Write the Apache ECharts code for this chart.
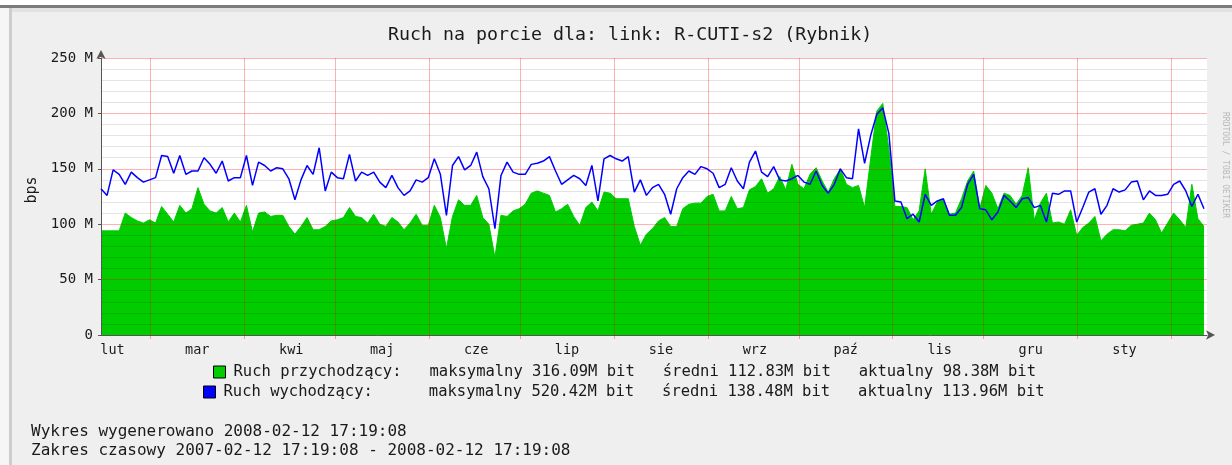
<!DOCTYPE html>
<html>
<head>
<meta charset="utf-8">
<title>Ruch na porcie</title>
<script src="https://cdn.jsdelivr.net/npm/echarts@6/dist/echarts.min.js"></script>
<style>
  html, body { margin: 0; padding: 0; background: #fff; }
  #chart { width: 1232px; height: 465px; }
</style>
</head>
<body>
<div id="chart"></div>
<script>
  // dane: jedna probka co 2 dni, wartosci w Mbit/s
  const STEP_DAYS = 2;
  const RANGE_DAYS = 365;

  const RUCH_IN = [
    94, 94, 94, 94, 110, 106, 103, 101, 104, 101,
    116, 109, 102, 117, 110, 114, 133, 118, 112, 110,
    115, 102, 110, 102, 117, 93, 110, 111, 107, 108,
    108, 98, 91, 98, 106, 95, 95, 98, 103, 104,
    106, 115, 107, 106, 101, 109, 100, 98, 106, 102,
    95, 101, 109, 99, 99, 117, 106, 78, 107, 122,
    117, 117, 126, 106, 100, 70, 108, 107, 112, 114,
    118, 128, 130, 128, 126, 111, 114, 118, 107, 99,
    115, 120, 112, 129, 128, 123, 123, 123, 98, 81,
    91, 96, 103, 106, 98, 98, 114, 118, 119, 119,
    125, 127, 112, 112, 125, 114, 115, 131, 134, 141,
    128, 132, 143, 131, 154, 136, 132, 145, 151, 139,
    129, 141, 150, 136, 133, 135, 115, 159, 202, 209,
    168, 116, 116, 115, 104, 112, 150, 109, 120, 122,
    109, 110, 123, 139, 148, 114, 135, 128, 114, 128,
    126, 118, 126, 151, 104, 119, 128, 101, 102, 100,
    113, 90, 97, 101, 107, 85, 91, 95, 95, 94,
    99, 100, 101, 110, 104, 92, 101, 110, 104, 97,
    136, 105, 98
  ];

  const RUCH_OUT = [
    132, 126, 149, 145, 136, 147, 142, 138, 140, 142,
    162, 161, 146, 162, 145, 148, 148, 160, 154, 146,
    157, 139, 142, 142, 162, 135, 156, 153, 148, 151,
    150, 141, 122, 140, 153, 145, 169, 130, 147, 142,
    141, 163, 139, 147, 144, 147, 138, 133, 144, 133,
    126, 130, 140, 138, 142, 159, 145, 108, 153, 161,
    149, 153, 165, 143, 132, 96, 144, 156, 147, 145,
    145, 154, 155, 157, 161, 148, 136, 140, 144, 141,
    135, 153, 121, 159, 162, 159, 157, 161, 129, 140,
    126, 133, 136, 127, 109, 132, 142, 148, 145, 152,
    150, 146, 133, 136, 151, 139, 132, 156, 166, 147,
    143, 152, 140, 139, 141, 144, 138, 136, 148, 135,
    128, 136, 150, 142, 141, 186, 155, 180, 199, 205,
    182, 121, 120, 105, 109, 102, 127, 117, 121, 123,
    108, 108, 115, 136, 145, 114, 113, 104, 111, 126,
    121, 115, 123, 124, 115, 117, 102, 128, 127, 130,
    130, 102, 115, 129, 132, 109, 117, 132, 129, 131,
    138, 139, 122, 130, 126, 126, 127, 136, 139, 130,
    116, 127, 114
  ];

  // miesiace: poczatek miesiaca w dniach od 2007-02-12 17:19:08
  const MONTHS = ['lut', 'mar', 'kwi', 'maj', 'cze', 'lip', 'sie', 'wrz', 'paź', 'lis', 'gru', 'sty'];
  const MONTH_START = [-11.72, 16.28, 47.28, 77.28, 108.28, 138.28, 169.28, 200.28, 230.28, 261.28, 291.28, 322.28, 353.28];

  const Y_MAX = 250;
  const Y_STEP = 50;

  const TITLE = 'Ruch na porcie dla: link: R-CUTI-s2 (Rybnik)';
  const NAME_IN = 'Ruch przychodzący';
  const NAME_OUT = 'Ruch wychodzący';
  const STATS_IN = ':   maksymalny 316.09M bit   średni 112.83M bit   aktualny 98.38M bit';
  const STATS_OUT = ':      maksymalny 520.42M bit   średni 138.48M bit   aktualny 113.96M bit';
  const FOOT_1 = 'Wykres wygenerowano 2008-02-12 17:19:08';
  const FOOT_2 = 'Zakres czasowy 2007-02-12 17:19:08 - 2008-02-12 17:19:08';

  const MONO = "'DejaVu Sans Mono', monospace";
  const GREEN = '#00cc00';
  const BLUE = '#0000ff';

  const boundaries = MONTH_START.slice(1);
  const labelPos = MONTH_START.slice(0, 12).map(function (d) { return d + 15.5; });

  function toPairs(arr) {
    return arr.map(function (v, i) { return [i * STEP_DAYS, v]; });
  }

  function monthName(v) {
    let best = 0;
    for (let i = 1; i < labelPos.length; i++) {
      if (Math.abs(labelPos[i] - v) < Math.abs(labelPos[best] - v)) best = i;
    }
    return MONTHS[best];
  }

  var myChart = echarts.init(document.getElementById('chart'));

  myChart.setOption({
    backgroundColor: '#ffffff',
    animation: false,
    graphic: [
      { type: 'rect', z: -10, shape: { x: 0, y: 5, width: 1232, height: 3 }, style: { fill: '#7c7c7c' } },
      { type: 'rect', z: -10, shape: { x: 0, y: 8, width: 1232, height: 457 }, style: { fill: '#e2e2e2' } },
      { type: 'rect', z: -9, shape: { x: 12, y: 12, width: 1220, height: 453 }, style: { fill: '#efefef' } },
      { type: 'rect', z: -9, shape: { x: 0, y: 8, width: 9, height: 457 }, style: { fill: '#f6f6f6' } },
      { type: 'rect', z: -9, shape: { x: 9, y: 8, width: 3, height: 457 }, style: { fill: '#cdcdcd' } },
      {
        type: 'text', x: 32, y: 190, rotation: Math.PI / 2,
        style: { text: 'bps', font: '15px ' + MONO, fill: '#1a1a1a', align: 'center', verticalAlign: 'middle' }
      },
      {
        type: 'text', x: 1225, y: 165, rotation: -Math.PI / 2,
        style: { text: 'RRDTOOL / TOBI OETIKER', font: '8px ' + MONO, fill: '#b8b8b8', align: 'center', verticalAlign: 'middle' }
      },
      {
        type: 'text', x: 31, y: 432,
        style: { text: FOOT_1, font: '16px ' + MONO, fill: '#1a1a1a', verticalAlign: 'middle' }
      },
      {
        type: 'text', x: 31, y: 451,
        style: { text: FOOT_2, font: '16px ' + MONO, fill: '#1a1a1a', verticalAlign: 'middle' }
      }
    ],
    title: {
      text: TITLE,
      left: 388,
      top: 26,
      padding: 0,
      textStyle: { fontFamily: MONO, fontSize: 18.3, fontWeight: 'normal', color: '#1a1a1a' }
    },
    legend: [
      {
        data: [NAME_IN],
        left: 213, top: 364, padding: 0,
        icon: 'rect', itemWidth: 12, itemHeight: 12,
        itemStyle: { borderColor: '#000', borderWidth: 1 },
        selectedMode: false,
        formatter: function (name) { return name + STATS_IN; },
        textStyle: { fontFamily: MONO, fontSize: 15.5, color: '#1a1a1a', padding: [0, 0, 0, 3] }
      },
      {
        data: [NAME_OUT],
        left: 203, top: 384, padding: 0,
        icon: 'rect', itemWidth: 12, itemHeight: 12,
        itemStyle: { borderColor: '#000', borderWidth: 1 },
        selectedMode: false,
        formatter: function (name) { return name + STATS_OUT; },
        textStyle: { fontFamily: MONO, fontSize: 15.5, color: '#1a1a1a', padding: [0, 0, 0, 3] }
      }
    ],
    grid: {
      left: 101, top: 58, right: 25, bottom: 130,
      show: true, backgroundColor: '#ffffff', borderWidth: 0
    },
    xAxis: {
      type: 'value',
      min: 0,
      max: RANGE_DAYS,
      z: 3,
      axisLine: {
        lineStyle: { color: '#555', width: 1 },
        symbol: ['none', 'arrow'], symbolSize: [7, 9], symbolOffset: [0, 8]
      },
      axisTick: {
        show: true, customValues: boundaries, length: 4, inside: false,
        lineStyle: { color: 'rgba(255,0,0,0.35)' }
      },
      axisLabel: {
        customValues: labelPos,
        formatter: monthName,
        fontFamily: MONO, fontSize: 13.5, color: '#1a1a1a', margin: 8
      },
      splitLine: { show: true, lineStyle: { color: 'rgba(255,0,0,0.3)', width: 1 } }
    },
    yAxis: {
      type: 'value',
      min: 0,
      max: Y_MAX,
      interval: Y_STEP,
      z: 3,
      axisLine: {
        show: true,
        lineStyle: { color: '#555', width: 1 },
        symbol: ['none', 'arrow'], symbolSize: [7, 9], symbolOffset: [0, 8]
      },
      axisTick: { show: true, length: 3, lineStyle: { color: '#555' } },
      minorTick: { show: false, splitNumber: 5 },
      axisLabel: {
        formatter: function (v) { return v === 0 ? '0' : v + ' M'; },
        fontFamily: MONO, fontSize: 14, color: '#1a1a1a', margin: 8
      },
      splitLine: { show: true, lineStyle: { color: 'rgba(255,0,0,0.3)', width: 1 } },
      minorSplitLine: { show: true, lineStyle: { color: 'rgba(0,0,0,0.11)', width: 1 } }
    },
    series: [
      {
        name: NAME_IN,
        type: 'line',
        z: 2,
        data: toPairs(RUCH_IN),
        symbol: 'none',
        itemStyle: { color: GREEN },
        lineStyle: { color: GREEN, width: 1 },
        areaStyle: { color: GREEN, opacity: 1 }
      },
      {
        name: NAME_OUT,
        type: 'line',
        z: 4,
        data: toPairs(RUCH_OUT),
        symbol: 'none',
        itemStyle: { color: BLUE },
        lineStyle: { color: BLUE, width: 1.5 }
      }
    ]
  });
</script>
</body>
</html>
